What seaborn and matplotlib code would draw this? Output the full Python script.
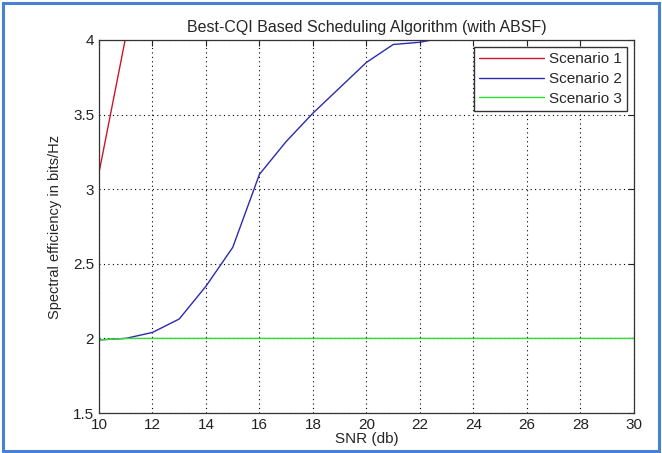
import pandas as pd
import matplotlib.pyplot as plt
import matplotlib.patches as patches
import seaborn as sns

# SNR values (db) and spectral efficiency
snr = [10, 11, 12, 13, 14, 15, 16, 17, 18, 19, 20,
       21, 22, 23, 24, 25, 26, 27, 28, 29, 30]
scenario_1 = [3.11, 4.02, 4.6, 5.0, 5.3, 5.5, 5.7, 5.8, 5.9, 6.0, 6.0,
              6.0, 6.0, 6.0, 6.0, 6.0, 6.0, 6.0, 6.0, 6.0, 6.0]
scenario_2 = [1.99, 2.0, 2.04, 2.13, 2.35, 2.61, 3.1, 3.32, 3.51, 3.68, 3.85,
              3.97, 3.985, 4.02, 4.05, 4.05, 4.05, 4.05, 4.05, 4.05, 4.05]
scenario_3 = [1.99, 2.0, 2.0, 2.0, 2.0, 2.0, 2.0, 2.0, 2.0, 2.0, 2.0,
              2.0, 2.0, 2.0, 2.0, 2.0, 2.0, 2.0, 2.0, 2.0, 2.0]
series_names = ['Scenario 1', 'Scenario 2', 'Scenario 3']
x_ticks = [10, 12, 14, 16, 18, 20, 22, 24, 26, 28, 30]
y_ticks = [1.5, 2, 2.5, 3, 3.5, 4]

df = pd.concat([
    pd.DataFrame({'snr': snr, 'eff': vals, 'series': name})
    for name, vals in zip(series_names, [scenario_1, scenario_2, scenario_3])
])

sns.set_style('white')
plt.rcParams['font.family'] = ['Liberation Sans', 'DejaVu Sans']

fig = plt.figure(figsize=(6.62, 4.53), dpi=100)
ax = fig.add_axes([0.1495, 0.0883, 0.8082, 0.8234])

palette = {'Scenario 1': '#d0142c', 'Scenario 2': '#2b2bb0', 'Scenario 3': '#2ee02e'}
sns.lineplot(data=df, x='snr', y='eff', hue='series', palette=palette,
             linewidth=1.0, ax=ax, sort=False)

ax.set_xlim(10, 30)
ax.set_ylim(1.5, 4)
ax.set_xticks(x_ticks)
ax.set_yticks(y_ticks)
ax.set_yticklabels(['1.5', '2', '2.5', '3', '3.5', '4'])
ax.tick_params(direction='in', top=True, right=True, length=4, width=0.8,
               labelsize=11, colors='#222222', pad=3.5)
ax.grid(True, color='black', linestyle=(0, (1, 3)), linewidth=0.8)
for s in ax.spines.values():
    s.set_color('#333333')
    s.set_linewidth(0.9)

ax.set_title('Best-CQI Based Scheduling Algorithm (with ABSF)', fontsize=11.5, pad=6)
ax.set_xlabel('SNR (db)', fontsize=11, labelpad=0)
ax.set_ylabel('Spectral efficiency in bits/Hz', fontsize=10.5, labelpad=8)

leg = ax.legend(loc='upper right', fontsize=11, handlelength=4.2,
                handletextpad=0.35, fancybox=False, framealpha=1,
                edgecolor='#333333', borderaxespad=0.45, labelspacing=0.37,
                borderpad=0.35)
leg.get_frame().set_linewidth(1.0)

# light blue frame around the picture
fig.patches.append(patches.Rectangle((0.004, 0.004), 0.992, 0.99,
                                     transform=fig.transFigure, fill=False,
                                     edgecolor='#4a7fd6', linewidth=2.2))

plt.savefig('out.png', dpi=100)
